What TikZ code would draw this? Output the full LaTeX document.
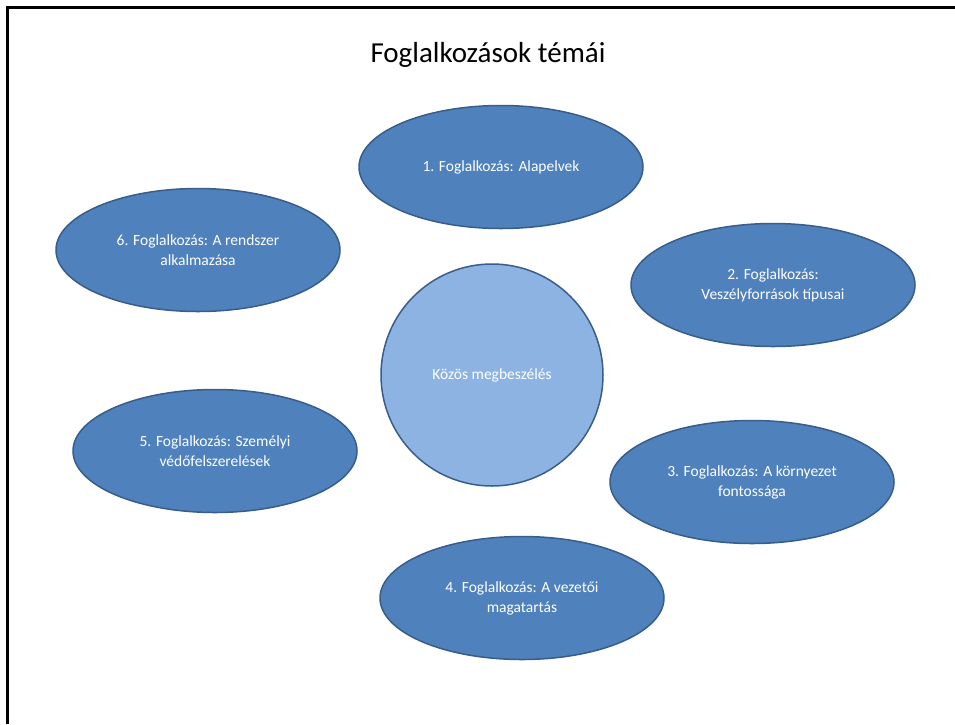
\documentclass[tikz,border=0pt]{standalone}
\usepackage{fontspec}
\setmainfont{Carlito}
\usetikzlibrary{shapes.geometric,positioning}
\definecolor{topicblue}{RGB}{79,129,189}
\definecolor{topicedge}{RGB}{56,93,138}
\definecolor{centerblue}{RGB}{141,179,226}

\begin{document}
\begin{tikzpicture}[x=1pt,y=-1pt,
    topic/.style={ellipse,draw=topicedge,line width=1.5pt,fill=topicblue,text=white,
      minimum width=284pt,minimum height=123pt,align=center,
      font=\fontsize{15.5}{20}\selectfont},
    hub/.style={topic,fill=centerblue,minimum width=222pt,minimum height=222pt}]
        \useasboundingbox (0,0) rectangle (955,724);
        \draw[line width=3pt] (7.5,724) -- (7.5,7.5) -- (955,7.5);

        \node (title) at (488,55) {\fontsize{29}{34}\selectfont Foglalkozások témái};

        \node[hub] (kozos) at (492,375) {Közös megbeszélés};

        \node[topic] (f1) at (501,167) {1. Foglalkozás: Alapelvek};
        \node[topic] (f2) at (773,285) {2. Foglalkozás:\\Veszélyforrások típusai};
        \node[topic] (f3) at (752,482) {3. Foglalkozás: A környezet\\fontossága};
        \node[topic] (f4) at (522,598) {4. Foglalkozás: A vezetői\\magatartás};
        \node[topic] (f5) at (215,451) {5. Foglalkozás: Személyi\\védőfelszerelések};
        \node[topic] (f6) at (198,250) {6. Foglalkozás: A rendszer\\alkalmazása};
    \end{tikzpicture}
\end{document}
